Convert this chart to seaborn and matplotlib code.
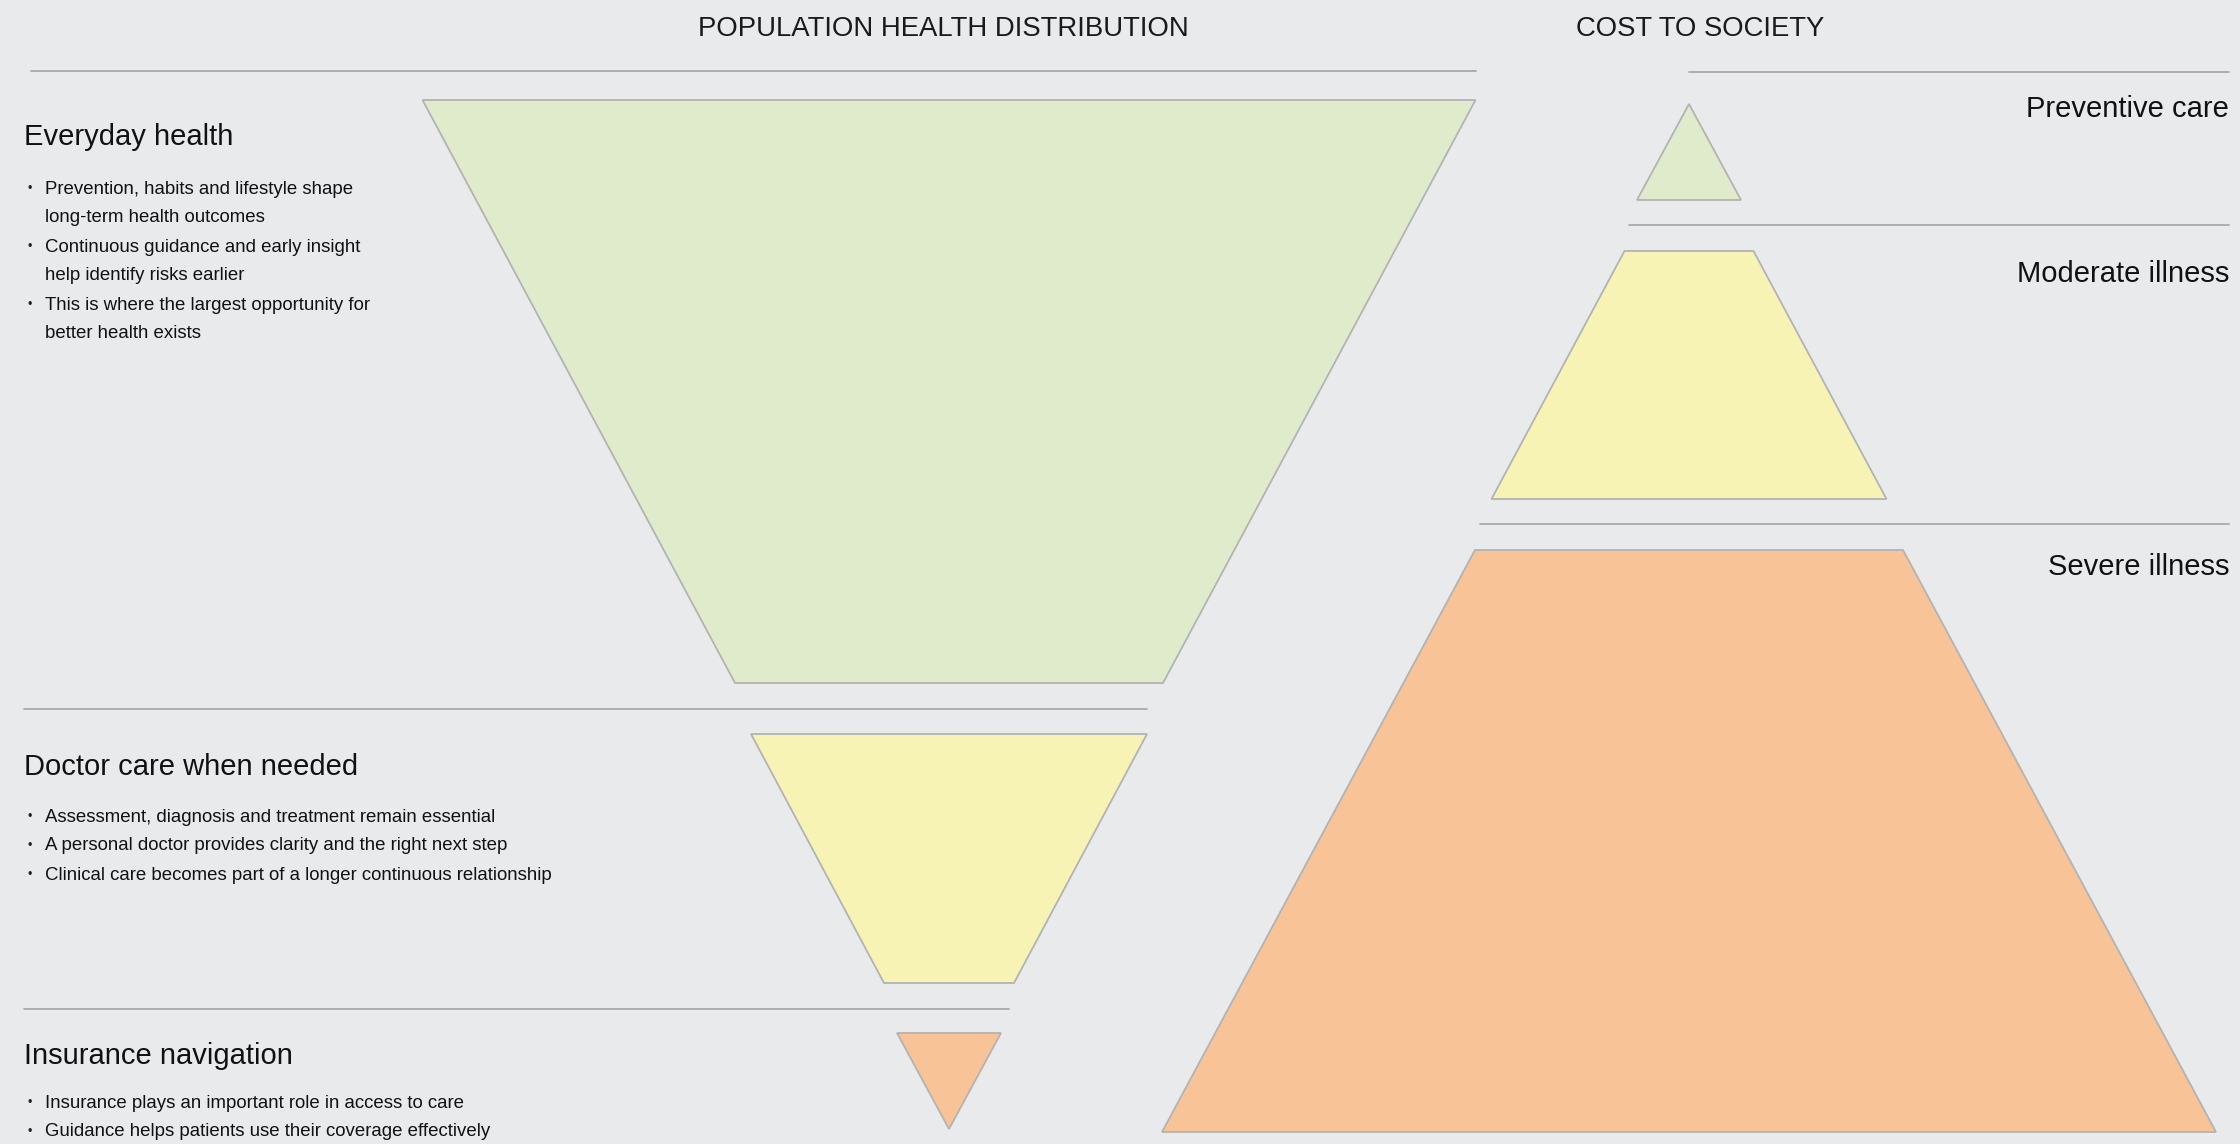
import matplotlib
matplotlib.use("Agg")
import matplotlib.pyplot as plt
import seaborn as sns
import pandas as pd

# ---------------- data ----------------
pop_title = "POPULATION HEALTH DISTRIBUTION"
cost_title = "COST TO SOCIETY"

pop_labels = ["Everyday health", "Doctor care when needed", "Insurance navigation"]
pop_bullets = [
    ["Prevention, habits and lifestyle shape\nlong-term health outcomes",
     "Continuous guidance and early insight\nhelp identify risks earlier",
     "This is where the largest opportunity for\nbetter health exists"],
    ["Assessment, diagnosis and treatment remain essential",
     "A personal doctor provides clarity and the right next step",
     "Clinical care becomes part of a longer continuous relationship"],
    ["Insurance plays an important role in access to care",
     "Guidance helps patients use their coverage effectively"],
]
# funnel (population) widths, top and bottom of each segment
pop_top_width = [1053, 396, 104]
pop_bottom_width = [428, 130, 0]

cost_labels = ["Preventive care", "Moderate illness", "Severe illness"]
# pyramid (cost) widths, top and bottom of each segment
cost_top_width = [0, 129, 428]
cost_bottom_width = [104, 395, 1054]

colors = ["#e0ebcc", "#f7f3b5", "#f8c497"]

# ---------------- layout ----------------
W, H = 2240, 1144
BG = "#e9eaec"
EDGE = "#b3b3b3"
RULE = "#a9a9a9"

pop_cx = 949
pop_y_top = [100, 734, 1033]
pop_y_bot = [683, 983, 1129]
pop_rule_y = [71, 709, 1009]
pop_rule_x0 = [31, 24, 24]
pop_rule_x1 = [1476, 1147, 1009]
pop_head_y = [137, 767, 1056]
pop_bullet_y = [189, 817, 1103]

cost_cx = 1689
cost_y_top = [104, 251, 550]
cost_y_bot = [200, 499, 1132]
cost_rule_y = [72, 225, 524]
cost_rule_x0 = [1689, 1629, 1480]
cost_head_y = [109, 274, 567]

sns.set_theme(style="white")
plt.rcParams["font.family"] = ["Liberation Sans", "DejaVu Sans"]

fig = plt.figure(figsize=(W / 100, H / 100), dpi=100, facecolor=BG)
ax = fig.add_axes([0, 0, 1, 1])
ax.set_facecolor(BG)
ax.set_xlim(0, W)
ax.set_ylim(H, 0)
ax.axis("off")

def rule(x0, x1, y):
    df = pd.DataFrame({"x": [x0, x1], "y": [y, y]})
    sns.lineplot(data=df, x="x", y="y", ax=ax, color=RULE, lw=1.3,
                 sort=False, estimator=None)

def trapezoid(cx, wt, wb, yt, yb, color):
    xs = [cx - wt / 2, cx + wt / 2, cx + wb / 2, cx - wb / 2]
    ys = [yt, yt, yb, yb]
    ax.fill(xs, ys, facecolor=color, edgecolor=EDGE, lw=1.3, joinstyle="miter")

# titles
ax.text(943, 28.5, pop_title, ha="center", va="center", fontsize=19.8, color="#1a1a1a")
ax.text(1700, 28.5, cost_title, ha="center", va="center", fontsize=19.8, color="#1a1a1a")

# population funnel
left_x = 24
LINE = 29
for i in range(3):
    trapezoid(pop_cx, pop_top_width[i], pop_bottom_width[i],
              pop_y_top[i], pop_y_bot[i], colors[i])
    rule(pop_rule_x0[i], pop_rule_x1[i], pop_rule_y[i])
    ax.text(left_x, pop_head_y[i], pop_labels[i], ha="left", va="center",
            fontsize=21, color="#111111")
    y = pop_bullet_y[i]
    for b in pop_bullets[i]:
        ax.text(left_x + 3, y, "•", ha="left", va="center", fontsize=9, color="#222222")
        for line in b.split("\n"):
            ax.text(left_x + 21, y, line, ha="left", va="center", fontsize=13.45,
                    color="#111111")
            y += LINE

# cost pyramid
right_x = 2229
for i in range(3):
    trapezoid(cost_cx, cost_top_width[i], cost_bottom_width[i],
              cost_y_top[i], cost_y_bot[i], colors[i])
    rule(cost_rule_x0[i], right_x, cost_rule_y[i])
    ax.text(right_x, cost_head_y[i], cost_labels[i], ha="right", va="center",
            fontsize=21, color="#111111")

fig.savefig("out.png", dpi=100, facecolor=BG)
